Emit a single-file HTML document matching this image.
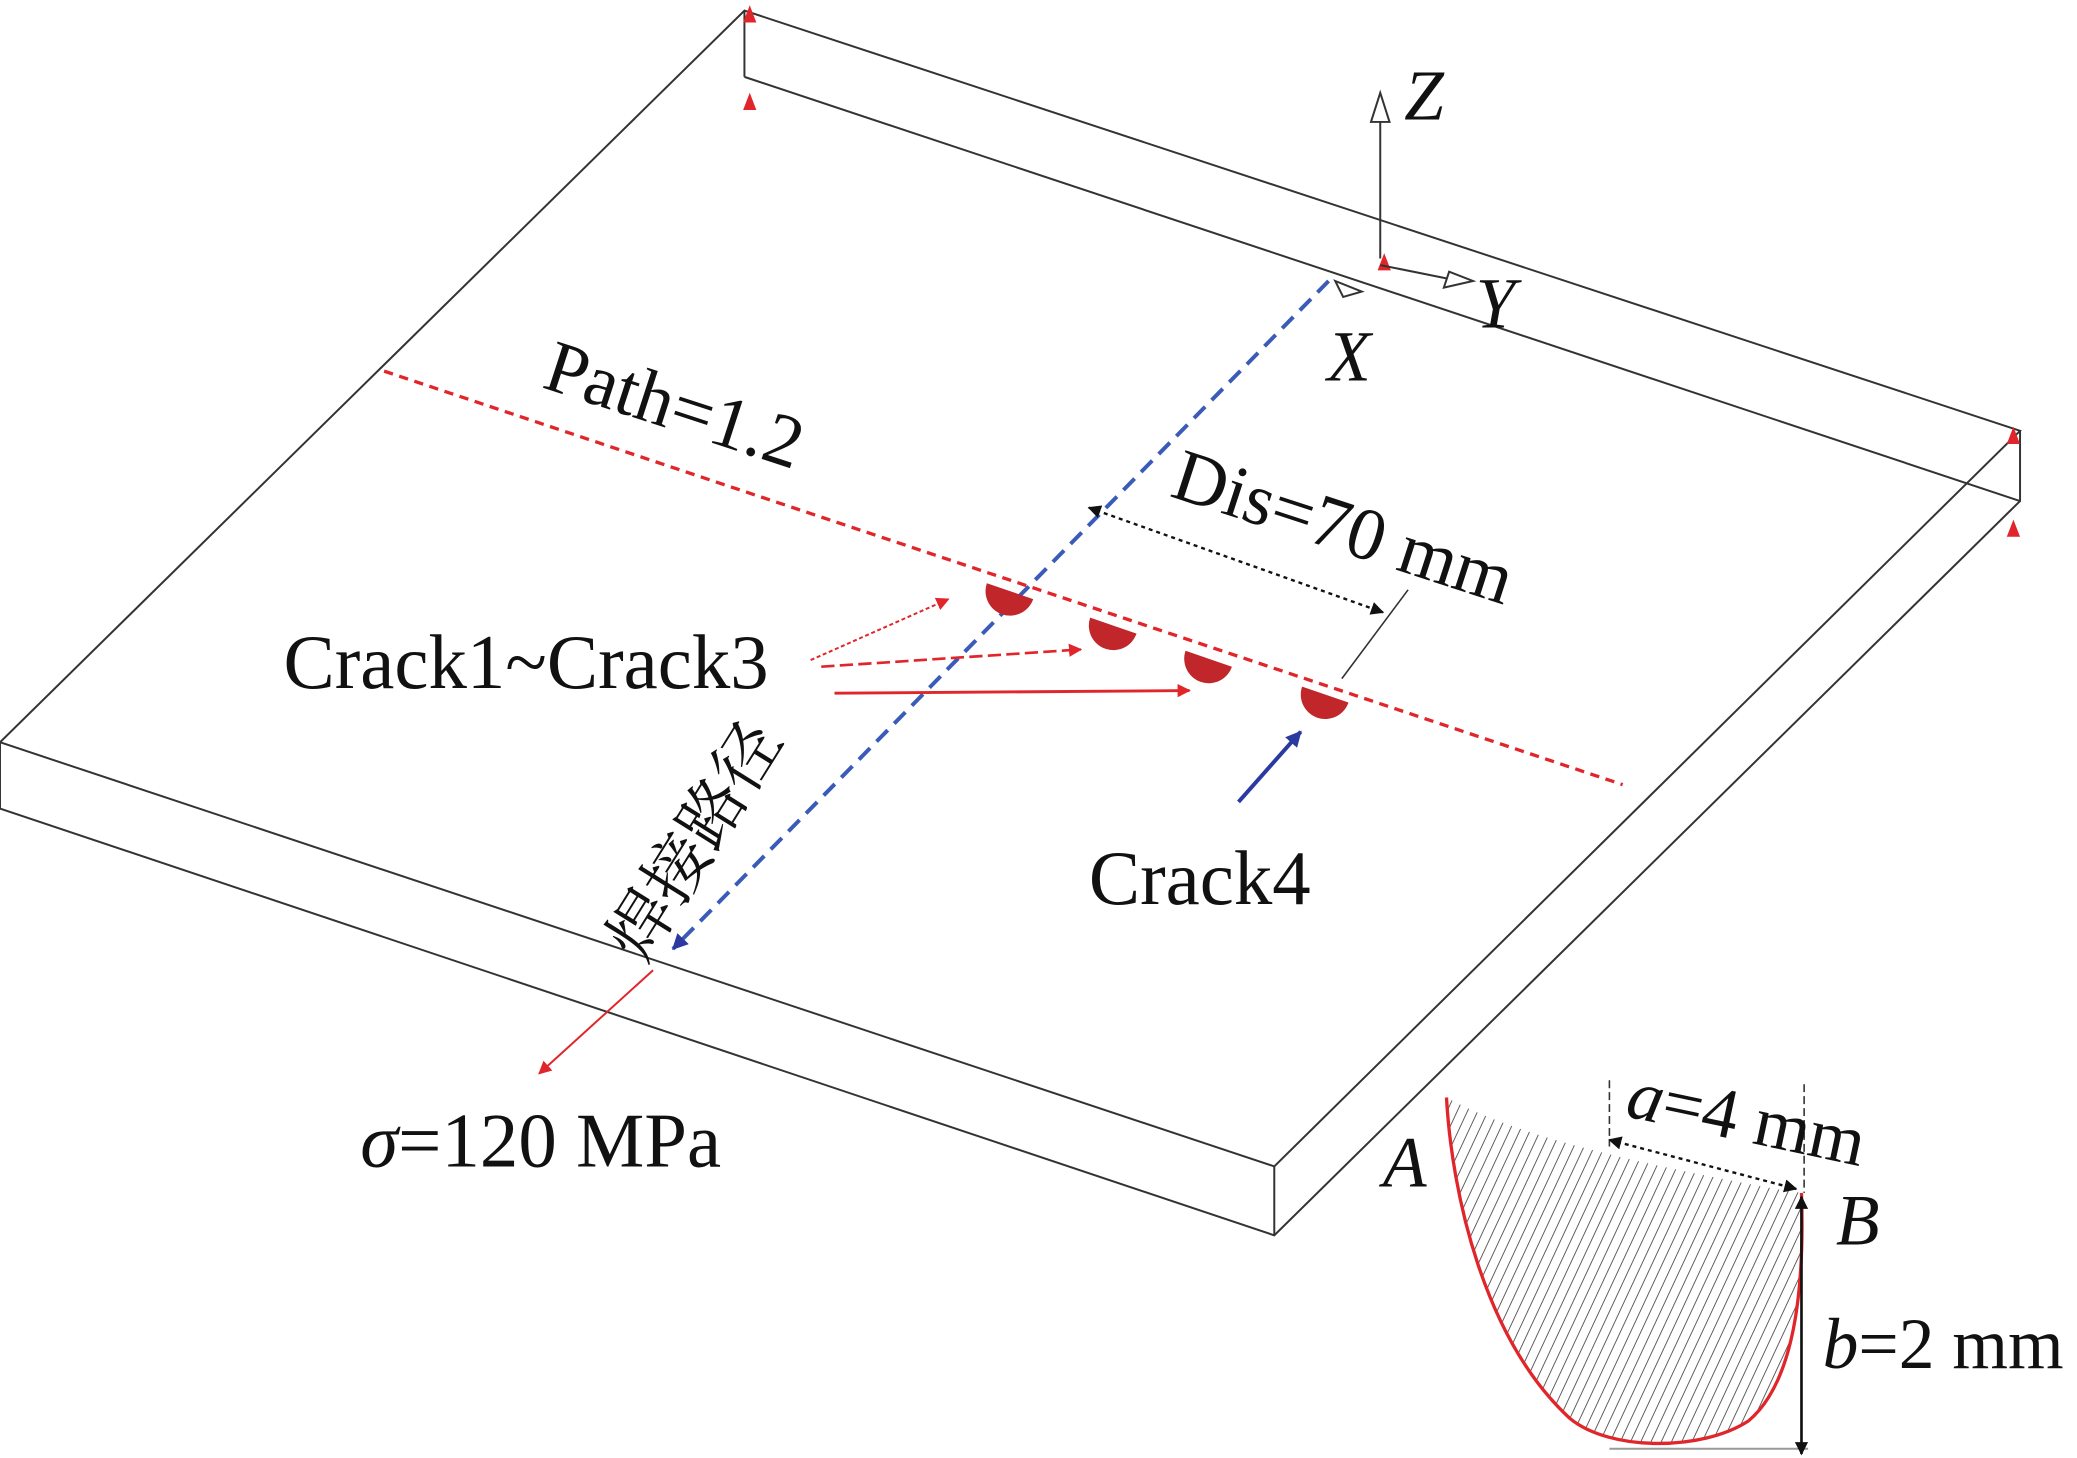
<!DOCTYPE html>
<html><head><meta charset="utf-8"><style>html,body{margin:0;padding:0;background:#fff}svg{display:block}
text{font-family:"Liberation Serif","Noto Serif CJK SC",serif;fill:#111}</style></head>
<body>
<svg width="2077" height="1458" viewBox="0 0 1568 1100" preserveAspectRatio="none" xmlns="http://www.w3.org/2000/svg">
<defs>
<marker id="ar" markerWidth="10" markerHeight="10" refX="9" refY="5" orient="auto" markerUnits="userSpaceOnUse"><path d="M0,0 L10,5 L0,10z" fill="#e0262a"/></marker>
<marker id="ab" markerWidth="12" markerHeight="12" refX="11" refY="6" orient="auto" markerUnits="userSpaceOnUse"><path d="M0,0 L12,6 L0,12z" fill="#2a3aa0"/></marker>
<marker id="ak" markerWidth="10" markerHeight="10" refX="9" refY="5" orient="auto" markerUnits="userSpaceOnUse"><path d="M0,0 L10,5 L0,10z" fill="#111"/></marker>
<marker id="ak2" markerWidth="10" markerHeight="10" refX="1" refY="5" orient="auto" markerUnits="userSpaceOnUse"><path d="M10,0 L0,5 L10,10z" fill="#111"/></marker>
<pattern id="hat" width="7" height="7" patternUnits="userSpaceOnUse" patternTransform="rotate(25)"><line x1="0" y1="0" x2="0" y2="7" stroke="#555" stroke-width="1.4"/></pattern>
</defs>
<g stroke="#333" stroke-width="1.5" fill="none">
<polygon points="562,8 1525,325 962,880 0,560"/>
<polyline points="0,560 0,610 962,932 1525,378 1525,325"/>
<line x1="962" y1="880" x2="962" y2="932"/>
<line x1="562" y1="8" x2="562" y2="58"/>
<line x1="562" y1="58" x2="1525" y2="378"/>
</g>
<g fill="#e0262a">
<path d="M566,4 l5,13 h-10z"/><path d="M566,70 l5,13 h-10z"/><path d="M1045,191 l5,13 h-10z"/>
<path d="M1520,322 l5,13 h-10z"/><path d="M1520,392 l5,13 h-10z"/>
</g>
<line x1="290" y1="280" x2="1225" y2="592" stroke="#e0262a" stroke-width="2.5" stroke-dasharray="7,5"/>
<line x1="1003" y1="212" x2="508" y2="716" stroke="#3a5bb8" stroke-width="3" stroke-dasharray="12,7" marker-end="url(#ab)"/>
<line x1="493" y1="732" x2="407" y2="810" stroke="#e0262a" stroke-width="1.5" marker-end="url(#ar)"/>
<g fill="#c0262a">
<path d="M745,440 A18,18 0 0 0 780,452 Z"/>
<path d="M823,466 A18,18 0 0 0 858,478 Z"/>
<path d="M895,491 A18,18 0 0 0 930,503 Z"/>
<path d="M983,518 A18,18 0 0 0 1018,530 Z"/>
</g>
<line x1="612" y1="498" x2="716" y2="452" stroke="#e0262a" stroke-width="1.5" stroke-dasharray="3,2" marker-end="url(#ar)"/>
<line x1="620" y1="503" x2="816" y2="490" stroke="#e0262a" stroke-width="2" stroke-dasharray="10,4" marker-end="url(#ar)"/>
<line x1="630" y1="523" x2="898" y2="521" stroke="#e0262a" stroke-width="2.2" marker-end="url(#ar)"/>
<line x1="935" y1="605" x2="982" y2="552" stroke="#2a3aa0" stroke-width="3" marker-end="url(#ab)"/>
<line x1="822" y1="383" x2="1044" y2="462" stroke="#111" stroke-width="1.8" stroke-dasharray="3,3" marker-end="url(#ak)" marker-start="url(#ak2)"/>
<line x1="1063" y1="445" x2="1013" y2="512" stroke="#333" stroke-width="1.2"/>
<g stroke="#333" stroke-width="1.5" fill="#fff">
<line x1="1042" y1="195" x2="1042" y2="90"/>
<path d="M1042,70 l7,22 h-14z"/>
<line x1="1042" y1="200" x2="1092" y2="210"/>
<path d="M1112,212 l-22,5 l4,-12z"/>
<path d="M1028,220 l-20,-8 l6,12z"/>
</g>
<text x="1060" y="90" font-size="54" font-style="italic">Z</text>
<text x="1114" y="247" font-size="54" font-style="italic">Y</text>
<text x="1002" y="287" font-size="54" font-style="italic">X</text>
<text transform="translate(408,292) rotate(18)" font-size="56">Path=1.2</text>
<text transform="translate(882,374) rotate(18)" font-size="56">Dis=70 mm</text>
<text x="214" y="519" font-size="58">Crack1~Crack3</text>
<text transform="translate(486,728) rotate(-58)" font-size="50" style="font-family:'Noto Serif CJK SC','Noto Sans CJK SC',serif">焊接路径</text>
<text x="822" y="682" font-size="58">Crack4</text>
<text x="272" y="880" font-size="58"><tspan font-style="italic">σ</tspan>=120 MPa</text>
<path d="M1092,828 C1096,900 1120,1010 1185,1070 C1215,1095 1285,1095 1320,1072 C1358,1040 1362,960 1360,900 L1340,897 C1250,880 1150,860 1092,828 Z" fill="url(#hat)" stroke="none"/>
<path d="M1092,828 C1096,900 1120,1010 1185,1070 C1215,1095 1285,1095 1320,1072 C1358,1040 1362,960 1360,900" fill="none" stroke="#e0262a" stroke-width="2.5"/>
<line x1="1215" y1="1093" x2="1365" y2="1093" stroke="#999" stroke-width="1.5"/>
<line x1="1360" y1="1097" x2="1360" y2="903" stroke="#111" stroke-width="2" marker-end="url(#ak)" marker-start="url(#ak2)"/>
<line x1="1215" y1="815" x2="1215" y2="865" stroke="#333" stroke-width="1.2" stroke-dasharray="6,3"/>
<line x1="1362" y1="818" x2="1362" y2="900" stroke="#333" stroke-width="1.2" stroke-dasharray="6,3"/>
<line x1="1215" y1="860" x2="1356" y2="897" stroke="#111" stroke-width="1.8" stroke-dasharray="3,3" marker-end="url(#ak)" marker-start="url(#ak2)"/>
<text transform="translate(1226,842) rotate(12)" font-size="54"><tspan font-style="italic">a</tspan>=4 mm</text>
<text x="1044" y="895" font-size="54" font-style="italic">A</text>
<text x="1386" y="939" font-size="54" font-style="italic">B</text>
<text x="1376" y="1032" font-size="54"><tspan font-style="italic">b</tspan>=2 mm</text>
</svg>
</body></html>
